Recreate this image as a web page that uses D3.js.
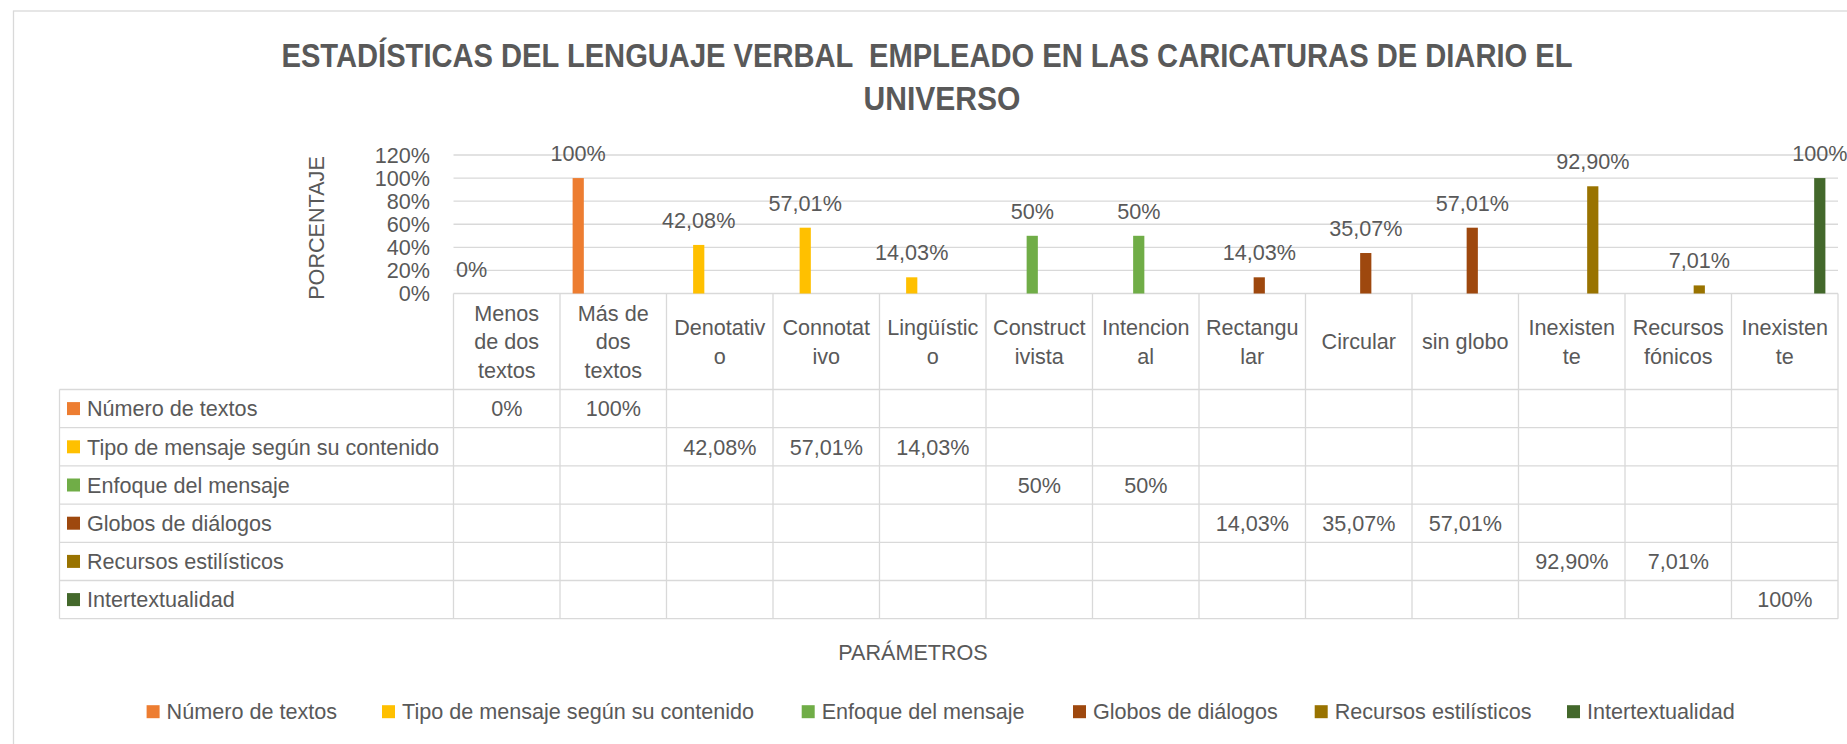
<!DOCTYPE html>
<html><head><meta charset="utf-8">
<script src="https://cdn.jsdelivr.net/npm/d3@7"></script>
<style>
body{margin:0;background:#fff}
svg{display:block}
text{font-family:'Liberation Sans',Arial,sans-serif;fill:#595959}
.pre{white-space:pre}
</style>
</head><body>
<svg id="c" width="1847" height="744"></svg>
<script>
// ---------- data ----------
const titleLines = ["ESTADÍSTICAS DEL LENGUAJE VERBAL  EMPLEADO EN LAS CARICATURAS DE DIARIO EL", "UNIVERSO"];
const yAxisTitle = "PORCENTAJE";
const xAxisTitle = "PARÁMETROS";
const categories = ["Menos de dos textos","Más de dos textos","Denotativo","Connotativo","Lingüístico","Constructivista","Intencional","Rectangular","Circular","sin globo","Inexistente","Recursos fónicos","Inexistente"];
const categoryLines = [["Menos","de dos","textos"],["Más de","dos","textos"],["Denotativ","o"],["Connotat","ivo"],["Lingüístic","o"],["Construct","ivista"],["Intencion","al"],["Rectangu","lar"],["Circular"],["sin globo"],["Inexisten","te"],["Recursos","fónicos"],["Inexisten","te"]];
const seriesNames = ["Número de textos","Tipo de mensaje según su contenido","Enfoque del mensaje","Globos de diálogos","Recursos estilísticos","Intertextualidad"];
const seriesColors = ["#ED7D31","#FFC000","#70AD47","#9E480E","#997300","#43682B"];
const numeroDeTextos      = [0, 100, null, null, null, null, null, null, null, null, null, null, null];
const tipoDeMensaje       = [null, null, 42.08, 57.01, 14.03, null, null, null, null, null, null, null, null];
const enfoqueDelMensaje   = [null, null, null, null, null, 50, 50, null, null, null, null, null, null];
const globosDeDialogos    = [null, null, null, null, null, null, null, 14.03, 35.07, 57.01, null, null, null];
const recursosEstilisticos= [null, null, null, null, null, null, null, null, null, null, 92.90, 7.01, null];
const intertextualidad    = [null, null, null, null, null, null, null, null, null, null, null, null, 100];
const seriesValues = [numeroDeTextos, tipoDeMensaje, enfoqueDelMensaje, globosDeDialogos, recursosEstilisticos, intertextualidad];
const yTicks = [0, 20, 40, 60, 80, 100, 120];

// ---------- helpers ----------
const loc = d3.formatLocale({decimal: ",", thousands: ".", grouping: [3], currency: ["", ""]});
const fmtInt = loc.format(".0%"), fmtDec = loc.format(".2%");
const fmtVal = v => (Math.round(v * 100) % 100 === 0) ? fmtInt(v / 100) : fmtDec(v / 100);

const svg = d3.select("#c");
const grid = "#d9d9d9";
const FS = 21.6;

// outer chart border
svg.append("rect").attr("x", 13.5).attr("y", 11).attr("width", 1900).attr("height", 800)
  .attr("fill", "#fff").attr("stroke", grid).attr("stroke-width", 1.3);

// title
svg.append("text").attr("class", "pre").attr("x", 927).attr("y", 66.7).attr("text-anchor", "middle")
  .attr("font-size", 32.5).attr("font-weight", "bold")
  .attr("textLength", 1291).attr("lengthAdjust", "spacingAndGlyphs").text(titleLines[0]);
svg.append("text").attr("x", 942).attr("y", 110).attr("text-anchor", "middle")
  .attr("font-size", 32.5).attr("font-weight", "bold")
  .attr("textLength", 157).attr("lengthAdjust", "spacingAndGlyphs").text(titleLines[1]);

// scales
const plotL = 453.5, plotR = 1838;
const x0 = d3.scaleBand().domain(d3.range(categories.length)).range([plotL, plotR]).padding(0);
const x1 = d3.scaleBand().domain(d3.range(seriesNames.length)).range([0, x0.bandwidth()]).paddingInner(0.2).paddingOuter(0.9);
const y = d3.scaleLinear().domain([0, 120]).range([293.5, 155]);

// gridlines
svg.append("g").selectAll("line").data(yTicks).join("line")
  .attr("x1", plotL).attr("x2", plotR).attr("y1", d => y(d)).attr("y2", d => y(d))
  .attr("stroke", grid).attr("stroke-width", 1.3);

// y tick labels
svg.append("g").selectAll("text").data(yTicks).join("text")
  .attr("x", 430).attr("y", d => y(d)).attr("dy", "0.36em").attr("text-anchor", "end")
  .attr("font-size", FS).text(d => fmtInt(d / 100));

// y axis title
svg.append("text").attr("transform", "translate(324,228) rotate(-90)")
  .attr("text-anchor", "middle").attr("font-size", FS).text(yAxisTitle);

// bars + labels
const bars = [];
seriesValues.forEach((vals, s) => vals.forEach((v, i) => { if (v !== null) bars.push({s, i, v}); }));
svg.append("g").selectAll("rect").data(bars).join("rect")
  .attr("x", d => x0(d.i) + x1(d.s)).attr("width", x1.bandwidth())
  .attr("y", d => y(d.v)).attr("height", d => y(0) - y(d.v))
  .attr("fill", d => seriesColors[d.s]);
svg.append("g").selectAll("text").data(bars).join("text")
  .attr("x", d => x0(d.i) + x1(d.s) + x1.bandwidth() / 2)
  .attr("y", d => y(d.v) - 17).attr("text-anchor", "middle")
  .attr("font-size", FS).text(d => fmtVal(d.v));

// data table
const tableL = 59.5, headTop = y(0), rowTop = 389.5, rowH = 38.2, nRows = seriesNames.length;
const tableB = rowTop + nRows * rowH;
const tg = svg.append("g");
d3.range(nRows + 1).forEach(k => {
  tg.append("line").attr("x1", tableL).attr("x2", plotR)
    .attr("y1", rowTop + k * rowH).attr("y2", rowTop + k * rowH)
    .attr("stroke", grid).attr("stroke-width", 1.3);
});
tg.selectAll("line.v").data(d3.range(categories.length)).join("line").attr("class", "v")
  .attr("x1", d => x0(d)).attr("x2", d => x0(d)).attr("y1", headTop).attr("y2", tableB)
  .attr("stroke", grid).attr("stroke-width", 1.3);
tg.append("line").attr("x1", plotR).attr("x2", plotR).attr("y1", headTop).attr("y2", tableB)
  .attr("stroke", grid).attr("stroke-width", 1.3);
tg.append("line").attr("x1", tableL).attr("x2", tableL).attr("y1", rowTop).attr("y2", tableB)
  .attr("stroke", grid).attr("stroke-width", 1.3);

// category header labels
const headMid = (headTop + rowTop) / 2, lh = 28.5;
categoryLines.forEach((lines, i) => {
  const t = svg.append("text").attr("text-anchor", "middle").attr("font-size", FS);
  lines.forEach((ln, j) => {
    t.append("tspan").attr("x", x0(i) + x0.bandwidth() / 2)
      .attr("y", headMid + (j - (lines.length - 1) / 2) * lh).attr("dy", "0.36em").text(ln);
  });
});

// row headers + values
seriesNames.forEach((name, s) => {
  const cy = rowTop + (s + 0.5) * rowH;
  svg.append("rect").attr("x", 67).attr("y", cy - 6.5).attr("width", 13).attr("height", 13).attr("fill", seriesColors[s]);
  svg.append("text").attr("x", 87).attr("y", cy).attr("dy", "0.36em").attr("font-size", FS).text(name);
  seriesValues[s].forEach((v, i) => {
    if (v === null) return;
    svg.append("text").attr("x", x0(i) + x0.bandwidth() / 2).attr("y", cy).attr("dy", "0.36em")
      .attr("text-anchor", "middle").attr("font-size", FS).text(fmtVal(v));
  });
});

// x axis title
svg.append("text").attr("x", 913).attr("y", 652).attr("dy", "0.36em").attr("text-anchor", "middle")
  .attr("font-size", FS).text(xAxisTitle);

// legend
const legX = [146.6, 382, 801.7, 1073, 1314.7, 1567];
const legY = 711.7;
const lg = svg.append("g").selectAll("g").data(seriesNames).join("g")
  .attr("transform", (d, i) => `translate(${legX[i]},${legY})`);
lg.append("rect").attr("x", 0).attr("y", -6.5).attr("width", 13).attr("height", 13).attr("fill", (d, i) => seriesColors[i]);
lg.append("text").attr("x", 20).attr("dy", "0.36em").attr("font-size", FS).text(d => d);
</script>
</body></html>
